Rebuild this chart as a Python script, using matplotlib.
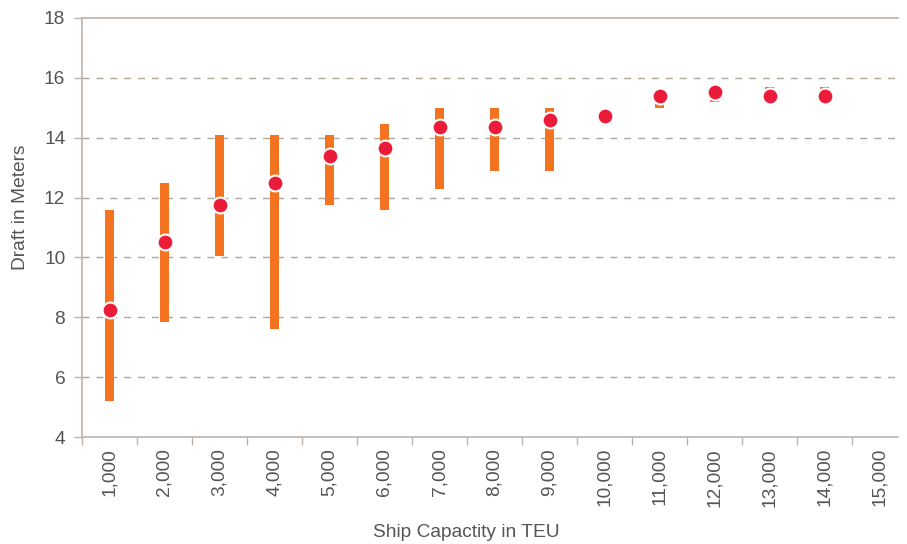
import matplotlib
matplotlib.use("Agg")
import matplotlib.pyplot as plt

plt.rcParams['font.family'] = ['Liberation Sans', 'DejaVu Sans']

categories = ["1,000", "2,000", "3,000", "4,000", "5,000", "6,000", "7,000",
              "8,000", "9,000", "10,000", "11,000", "12,000", "13,000", "14,000", "15,000"]
draft_min = [5.2, 7.85, 10.05, 7.6, 11.75, 11.6, 12.3, 12.9, 12.9, 14.7, 15.0, 15.2, 15.35, 15.35, None]
draft_max = [11.6, 12.5, 14.1, 14.1, 14.1, 14.45, 15.0, 15.0, 15.0, 14.75, 15.4, 15.5, 15.7, 15.7, None]
draft_avg = [8.25, 10.52, 11.75, 12.5, 13.4, 13.65, 14.35, 14.35, 14.6, 14.73, 15.38, 15.52, 15.38, 15.38, None]

orange = "#f47321"
red = "#ea1c39"
axis_col = "#bdb3aa"
grid_col = "#b0a69c"
text_col = "#555555"
fs = 13.8

fig = plt.figure(figsize=(9.07, 5.44), dpi=100)
ax = fig.add_axes([82/907, 1 - 437/544, (898-82)/907, (437-18)/544])

xs = list(range(len(categories)))
for x, lo, hi in zip(xs, draft_min, draft_max):
    if lo is None:
        continue
    ax.bar(x, hi - lo, bottom=lo, width=0.15, color=orange, zorder=3, linewidth=0)

px = [x for x, v in zip(xs, draft_avg) if v is not None]
py = [v for v in draft_avg if v is not None]
ax.scatter(px, py, s=130, color=red, edgecolors="white", linewidths=1.5, zorder=4)

ax.set_ylim(4, 18)
ax.set_yticks(range(4, 19, 2))
ax.set_xlim(-0.5, -0.5 + (898-82)/55)
ax.set_xticks([x - 0.5 for x in xs], minor=False)
ax.set_xticklabels([])
ax.set_xticks(xs, minor=True)
ax.set_xticklabels(categories, minor=True, rotation=90)
ax.tick_params(axis='x', which='minor', length=0, pad=8, labelsize=fs, labelcolor=text_col)
ax.tick_params(axis='x', which='major', length=6, color=axis_col, width=1)
ax.tick_params(axis='y', length=6, color=axis_col, width=1, labelsize=fs, labelcolor=text_col, pad=6)

for y in range(6, 17, 2):
    ax.axhline(y, color=grid_col, linestyle=(0, (5, 5)), linewidth=1, zorder=1)

ax.spines['right'].set_visible(False)
for s in ['left', 'bottom', 'top']:
    ax.spines[s].set_color(axis_col)
    ax.spines[s].set_linewidth(1.2)

ax.set_xlabel("Ship Capactity in TEU", fontsize=fs, color=text_col)
ax.set_ylabel("Draft in Meters", fontsize=fs, color=text_col)
ax.xaxis.set_label_coords((466-82)/816, -(524-437)/419)
ax.yaxis.set_label_coords((29-82)/816, (437-207)/419)

fig.savefig("out.png", dpi=100)
